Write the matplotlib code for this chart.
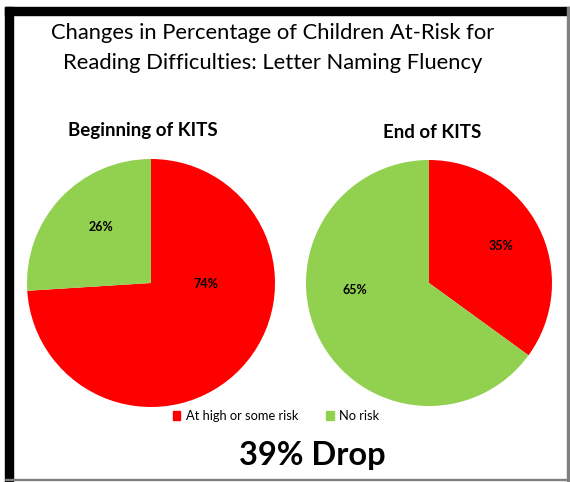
import matplotlib
matplotlib.use("Agg")
import matplotlib.pyplot as plt
from matplotlib.patches import Rectangle

plt.rcParams['font.family'] = ['Lato', 'DejaVu Sans']

# data
categories = ["At high or some risk", "No risk"]
colors = ["#FF0000", "#92D050"]
begin_vals = [74, 26]
end_vals = [35, 65]
pie_titles = ["Beginning of KITS", "End of KITS"]
title = "Changes in Percentage of Children At-Risk for\nReading Difficulties: Letter Naming Fluency"
drop_text = "39% Drop"

W, H = 570, 482
fig = plt.figure(figsize=(W / 100, H / 100), dpi=100)

def px_box(cx, cy, r):
    return [(cx - r) / W, 1 - (cy + r) / H, 2 * r / W, 2 * r / H]

# label offsets inside the pies (fraction of radius)
lbl_pos = [[(0.44, -0.01), (-0.40, 0.45)], [(0.585, 0.30), (-0.60, -0.06)]]

axes = [fig.add_axes(px_box(151, 283, 124)), fig.add_axes(px_box(429, 283, 123))]
for ax, vals, pos in zip(axes, [begin_vals, end_vals], lbl_pos):
    wedges, texts, autotexts = ax.pie(vals, colors=colors, startangle=90, counterclock=False,
                                      autopct='%d%%', radius=1,
                                      wedgeprops=dict(linewidth=0),
                                      textprops=dict(fontsize=9, fontweight='bold'))
    for t, p in zip(autotexts, pos):
        t.set_position(p)
    ax.set_xlim(-1, 1)
    ax.set_ylim(-1, 1)
    ax.set_aspect('auto')
    ax.axis('off')

fig.text(143 / W, 1 - 131 / H, pie_titles[0], ha='center', va='center', fontsize=13.5, fontweight='bold')
fig.text(432 / W, 1 - 133 / H, pie_titles[1], ha='center', va='center', fontsize=13.5, fontweight='bold')

fig.text(273 / W, 1 - 48 / H, title, ha='center', va='center', fontsize=15.8, linespacing=1.6)

# legend
handles = [Rectangle((0, 0), 1, 1, color=c) for c in colors]
fig.legend(handles, categories, loc='center', bbox_to_anchor=(276 / W, 1 - 416 / H),
           ncol=2, frameon=False, fontsize=9.3, handlelength=0.6, handleheight=0.6,
           handletextpad=0.4, columnspacing=2.2)

fig.text(312 / W, 1 - 455 / H, drop_text, ha='center', va='center', fontsize=23.5, fontweight='bold')

# frame
fig.patches.append(Rectangle((5 / W, 1 - 15 / H), 565 / W, 8 / H, transform=fig.transFigure,
                             color='black', zorder=5))
fig.patches.append(Rectangle((5 / W, 0), 8 / W, 1 - 7 / H, transform=fig.transFigure,
                             color='black', zorder=5))
fig.patches.append(Rectangle((567 / W, 0), 1.5 / W, 1 - 7 / H, transform=fig.transFigure,
                             color='#808080', zorder=5))
fig.patches.append(Rectangle((5 / W, 2 / H), 563 / W, 1.5 / H, transform=fig.transFigure,
                             color='#808080', zorder=5))

fig.savefig("out.png", dpi=100)
